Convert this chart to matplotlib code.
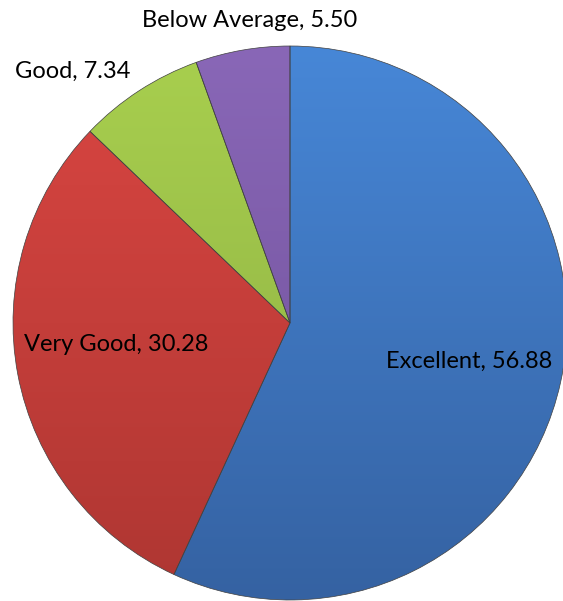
import numpy as np
import matplotlib.pyplot as plt
from matplotlib.colors import to_rgb

# data
categories = ['Excellent', 'Very Good', 'Good', 'Below Average']
values = [56.88, 30.28, 7.34, 5.50]

# top / bottom shades for the Excel-like gradient
top_colors = ['#4787D7', '#DA4642', '#A8CF4E', '#8967B7']
bot_colors = ['#3562A2', '#AE3632', '#8CAD43', '#6E4F98']

# label placement: (radius factor, angle in deg)
label_pos = [(0.66, -12.2), (0.633, 187.2), (1.20, 130.8), (1.10, 97.6)]

W, H = 563, 601
cx, cy, R = 290, H - 323, 277

plt.rcParams['font.family'] = ['Lato', 'DejaVu Sans']

fig = plt.figure(figsize=(W / 100, H / 100), dpi=100)
ax = fig.add_axes([0, 0, 1, 1])

wedges, _ = ax.pie(values, startangle=90, counterclock=False, center=(cx, cy),
                   radius=R, colors=top_colors,
                   wedgeprops=dict(edgecolor='#404040', linewidth=0.5))

for w, c0, c1 in zip(wedges, top_colors, bot_colors):
    grad = np.linspace(0, 1, 256)[:, None, None]
    img = (1 - grad) * np.array(to_rgb(c0)) + grad * np.array(to_rgb(c1))
    im = ax.imshow(img, extent=(cx - R, cx + R, cy - R, cy + R),
                   origin='upper', aspect='auto', zorder=w.get_zorder() + 0.1)
    im.set_clip_path(w)
    # redraw edge on top
    w.set_zorder(w.get_zorder() + 0.2)
    w.set_facecolor('none')

for name, val, (rf, ang) in zip(categories, values, label_pos):
    a = np.deg2rad(ang)
    ax.text(cx + rf * R * np.cos(a), cy + rf * R * np.sin(a),
            f'{name}, {val:.2f}', ha='center', va='center',
            fontsize=17, color='black', zorder=10)

ax.set_xlim(0, W)
ax.set_ylim(0, H)
ax.set_aspect('equal')
ax.axis('off')

fig.savefig('out.png', dpi=100)
